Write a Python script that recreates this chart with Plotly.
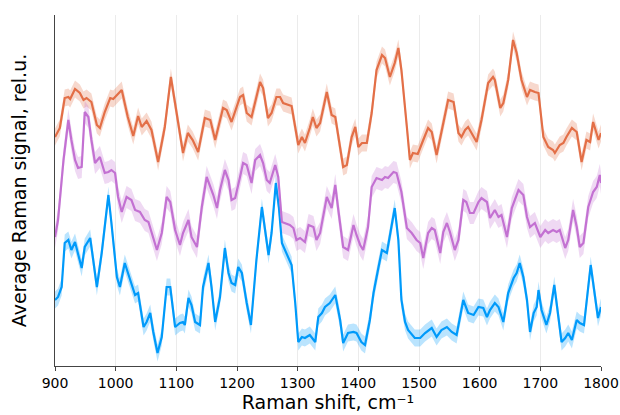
import plotly.graph_objects as go

# Orange series
wn_orange = [900, 908, 916, 922, 925, 933, 941, 947, 952, 960, 969, 974, 982, 991, 996, 1002, 1010, 1020, 1029, 1037,
             1043, 1051, 1059, 1070, 1081, 1091, 1101, 1111, 1119, 1127, 1136, 1147, 1156, 1164, 1177, 1183, 1191, 1205,
             1210, 1216, 1224, 1238, 1243, 1251, 1257, 1265, 1271, 1276, 1290, 1301, 1307, 1312, 1320, 1325, 1331, 1337,
             1348, 1356, 1362, 1366, 1375, 1381, 1389, 1395, 1400, 1406, 1414, 1422, 1430, 1439, 1444, 1452, 1460, 1466,
             1471, 1480, 1485, 1490, 1498, 1507, 1515, 1521, 1529, 1537, 1548, 1557, 1565, 1570, 1576, 1581, 1595, 1603,
             1614, 1622, 1625, 1634, 1639, 1647, 1655, 1661, 1669, 1678, 1683, 1691, 1697, 1705, 1713, 1721, 1724, 1732,
             1738, 1743, 1752, 1760, 1768, 1776, 1782, 1787, 1796, 1800]
sig_orange = [2.29, 2.38, 2.68, 2.69, 2.67, 2.77, 2.73, 2.66, 2.68, 2.64, 2.41, 2.38, 2.54, 2.68, 2.67, 2.71, 2.76, 2.49,
              2.30, 2.50, 2.39, 2.45, 2.36, 2.04, 2.39, 2.89, 2.53, 2.13, 2.33, 2.26, 2.14, 2.48, 2.46, 2.26, 2.58, 2.56,
              2.44, 2.69, 2.71, 2.53, 2.49, 2.84, 2.78, 2.48, 2.53, 2.69, 2.69, 2.63, 2.60, 2.21, 2.29, 2.23, 2.38, 2.49,
              2.38, 2.43, 2.74, 2.51, 2.49, 2.33, 1.99, 2.01, 2.29, 2.39, 2.19, 2.23, 2.23, 2.53, 2.96, 3.11, 3.08, 2.89,
              3.03, 3.18, 2.96, 2.39, 2.06, 2.13, 2.12, 2.26, 2.38, 2.34, 2.11, 2.34, 2.66, 2.64, 2.33, 2.29, 2.36, 2.39,
              2.24, 2.46, 2.83, 2.89, 2.86, 2.58, 2.63, 2.86, 3.26, 3.13, 2.86, 2.69, 2.76, 2.74, 2.73, 2.29, 2.19, 2.16,
              2.13, 2.21, 2.23, 2.29, 2.38, 2.34, 2.04, 2.26, 2.24, 2.44, 2.26, 2.33]

# Purple series
wn_purple = [900, 905, 914, 922, 927, 933, 938, 944, 949, 955, 960, 966, 974, 982, 988, 993, 999, 1004, 1010, 1018,
             1026, 1032, 1040, 1048, 1054, 1059, 1068, 1076, 1084, 1090, 1098, 1106, 1111, 1120, 1125, 1134, 1142, 1150,
             1155, 1161, 1167, 1172, 1180, 1186, 1191, 1197, 1205, 1210, 1216, 1224, 1230, 1238, 1243, 1249, 1254, 1263,
             1268, 1274, 1287, 1293, 1298, 1304, 1312, 1318, 1326, 1331, 1337, 1348, 1356, 1362, 1367, 1375, 1383, 1392,
             1397, 1403, 1408, 1416, 1422, 1430, 1439, 1444, 1449, 1458, 1463, 1471, 1480, 1488, 1496, 1502, 1507, 1515,
             1521, 1526, 1535, 1540, 1546, 1551, 1559, 1565, 1573, 1578, 1584, 1590, 1598, 1603, 1612, 1617, 1625, 1631,
             1636, 1645, 1653, 1664, 1672, 1678, 1683, 1691, 1700, 1708, 1713, 1721, 1727, 1732, 1741, 1746, 1754, 1760,
             1765, 1771, 1779, 1787, 1793, 1798, 1800]
sig_purple = [1.29, 1.46, 2.06, 2.46, 2.26, 2.06, 1.98, 1.99, 2.54, 2.49, 2.26, 2.03, 2.09, 1.93, 1.94, 1.96, 1.93, 1.69,
              1.54, 1.69, 1.66, 1.56, 1.54, 1.46, 1.44, 1.33, 1.16, 1.33, 1.69, 1.64, 1.36, 1.21, 1.33, 1.46, 1.29, 1.19,
              1.59, 1.89, 1.81, 1.71, 1.58, 1.76, 1.96, 1.86, 1.66, 1.68, 1.89, 2.03, 2.01, 1.83, 2.06, 2.11, 2.03, 1.86,
              1.83, 2.01, 1.89, 1.44, 1.41, 1.38, 1.26, 1.28, 1.24, 1.41, 1.39, 1.26, 1.33, 1.69, 1.58, 1.81, 1.56, 1.19,
              1.16, 1.41, 1.31, 1.21, 1.16, 1.39, 1.79, 1.88, 1.86, 1.89, 1.88, 1.94, 1.93, 1.74, 1.38, 1.33, 1.26, 1.23,
              1.08, 1.33, 1.38, 1.36, 1.13, 1.34, 1.43, 1.34, 1.16, 1.26, 1.66, 1.64, 1.53, 1.53, 1.64, 1.68, 1.64, 1.48,
              1.56, 1.49, 1.51, 1.29, 1.58, 1.76, 1.71, 1.49, 1.39, 1.43, 1.29, 1.36, 1.33, 1.36, 1.34, 1.36, 1.18, 1.26,
              1.56, 1.39, 1.19, 1.23, 1.59, 1.74, 1.79, 1.91, 1.83]

# Blue series
wn_blue = [900, 905, 911, 916, 922, 927, 933, 938, 944, 949, 958, 963, 969, 977, 985, 988, 993, 1002, 1007, 1015, 1024,
           1032, 1037, 1046, 1051, 1057, 1062, 1069, 1076, 1084, 1090, 1098, 1106, 1111, 1114, 1120, 1125, 1131, 1139,
           1144, 1153, 1158, 1164, 1172, 1180, 1186, 1191, 1197, 1202, 1208, 1216, 1223, 1232, 1241, 1252, 1257, 1264,
           1269, 1274, 1290, 1296, 1301, 1307, 1312, 1320, 1329, 1334, 1340, 1345, 1353, 1362, 1370, 1375, 1383, 1392,
           1397, 1405, 1411, 1419, 1425, 1433, 1439, 1447, 1452, 1460, 1466, 1471, 1477, 1482, 1493, 1502, 1510, 1521,
           1529, 1537, 1546, 1554, 1562, 1573, 1581, 1590, 1598, 1606, 1612, 1617, 1625, 1631, 1639, 1647, 1656, 1661,
           1666, 1672, 1678, 1683, 1689, 1694, 1697, 1702, 1710, 1716, 1723, 1730, 1735, 1741, 1746, 1752, 1760, 1765,
           1772, 1783, 1790, 1795, 1800]
sig_blue = [0.66, 0.69, 0.79, 1.23, 1.26, 1.16, 1.24, 1.13, 0.98, 1.19, 1.28, 1.06, 0.79, 1.13, 1.59, 1.71, 1.43, 0.89,
            0.79, 1.03, 0.86, 0.71, 0.73, 0.39, 0.44, 0.53, 0.34, 0.13, 0.29, 0.79, 0.79, 0.39, 0.43, 0.44, 0.41, 0.68,
            0.61, 0.44, 0.41, 0.79, 1.03, 0.79, 0.44, 0.69, 1.18, 0.93, 0.83, 0.81, 0.99, 0.93, 0.63, 0.41, 1.06, 1.59,
            1.11, 1.33, 1.83, 1.59, 1.23, 1.01, 0.63, 0.24, 0.29, 0.28, 0.31, 0.24, 0.49, 0.53, 0.59, 0.63, 0.71, 0.46,
            0.23, 0.33, 0.34, 0.33, 0.24, 0.21, 0.46, 0.73, 0.98, 1.16, 1.13, 1.29, 1.58, 1.26, 0.66, 0.44, 0.36, 0.28,
            0.28, 0.33, 0.38, 0.29, 0.36, 0.39, 0.34, 0.31, 0.66, 0.53, 0.51, 0.59, 0.58, 0.49, 0.56, 0.63, 0.59, 0.44,
            0.73, 0.88, 0.93, 1.03, 0.89, 0.66, 0.34, 0.53, 0.59, 0.76, 0.56, 0.41, 0.53, 0.81, 0.46, 0.24, 0.28, 0.33,
            0.26, 0.46, 0.43, 0.41, 1.01, 0.69, 0.48, 0.59]

# Band half-widths (spread of the average)
sd_blue, sd_orange, sd_purple = 0.085, 0.085, 0.11

series = [
    (wn_blue, sig_blue, sd_blue, "#009AFA", "rgba(0,154,250,0.27)"),
    (wn_orange, sig_orange, sd_orange, "#E36F47", "rgba(227,111,71,0.27)"),
    (wn_purple, sig_purple, sd_purple, "#C371D2", "rgba(195,113,210,0.27)"),
]

fig = go.Figure()
for wn, sig, sd, col, fillcol in series:
    fig.add_trace(go.Scatter(x=wn, y=[v + sd for v in sig], mode="lines", line=dict(width=0),
                             hoverinfo="skip", showlegend=False))
    fig.add_trace(go.Scatter(x=wn, y=[v - sd for v in sig], mode="lines", line=dict(width=0),
                             fill="tonexty", fillcolor=fillcol, hoverinfo="skip", showlegend=False))
for wn, sig, sd, col, fillcol in series:
    fig.add_trace(go.Scatter(x=wn, y=sig, mode="lines", line=dict(color=col, width=2.2), showlegend=False))

font_family = "DejaVu Sans"
fig.update_layout(
    width=620, height=415,
    margin=dict(l=55, r=19, t=15, b=49),
    paper_bgcolor="white", plot_bgcolor="white",
    font=dict(family=font_family, color="black"),
    showlegend=False,
)
fig.update_xaxes(
    range=[900, 1800], tickvals=[900, 1000, 1100, 1200, 1300, 1400, 1500, 1600, 1700, 1800],
    showgrid=True, gridcolor="rgba(0,0,0,0.08)", gridwidth=1,
    showline=True, linecolor="#444", linewidth=1.2, mirror=False,
    ticks="outside", ticklen=4, tickcolor="#444", tickfont=dict(size=14),
    title=dict(text="Raman shift, cm\u207b\u00b9", font=dict(size=19), standoff=4),
    zeroline=False, automargin=False,
)
fig.update_yaxes(
    range=[0.0, 3.51], showticklabels=False, showgrid=False, ticks="",
    showline=True, linecolor="#444", linewidth=1.2,
    title=dict(text="Average Raman signal, rel.u.", font=dict(size=19), standoff=22),
    zeroline=False, automargin=False,
)
fig.write_html("out.html")
